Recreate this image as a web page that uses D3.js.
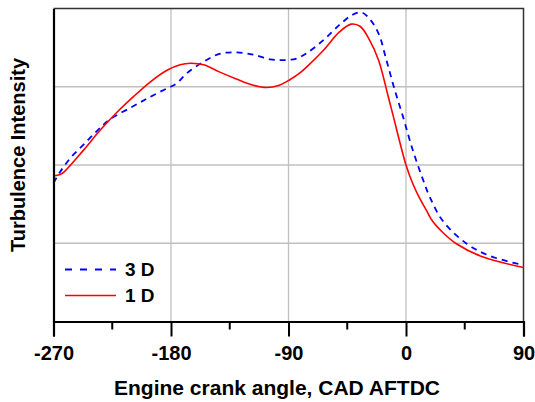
<!DOCTYPE html>
<html><head><meta charset="utf-8">
<script src="https://cdn.jsdelivr.net/npm/d3@7"></script>
<style>body{margin:0;background:#fff}svg{display:block}text{font-family:Arial,"Liberation Sans",sans-serif;font-weight:bold;fill:#000}</style>
</head><body>
<svg id="c" width="535" height="402"></svg>
<script>
const xTicks = [-270, -180, -90, 0, 90];
const xMinorTicks = [-225, -135, -45, 45];
const yGrid = [1, 2, 3];
const seriesNames = ["3 D", "1 D"];
const angle3D = [-270,-265,-257,-247,-237,-227,-209,-196,-183,-176,-168,-155,-143,-130,-117,-104,-94,-84,-76,-63,-51,-41,-34,-28,-21,-15,-9,-2,5,12,18,28,46,64,90];
const val3D   = [1.77,1.91,2.09,2.26,2.43,2.58,2.75,2.87,2.98,3.04,3.17,3.32,3.42,3.44,3.41,3.35,3.34,3.36,3.43,3.60,3.79,3.92,3.95,3.87,3.68,3.34,2.98,2.60,2.20,1.86,1.60,1.29,1.00,0.84,0.72];
const angle1D = [-270,-265,-262,-247,-234,-221,-209,-196,-183,-173,-165,-155,-143,-130,-117,-107,-97,-89,-81,-75,-63,-51,-42,-35,-28,-21,-14,-10,0,5,10,16,20,28,38,58,90];
const val1D   = [1.86,1.88,1.91,2.19,2.45,2.68,2.87,3.06,3.21,3.28,3.30,3.28,3.19,3.10,3.02,2.99,3.02,3.09,3.18,3.27,3.47,3.70,3.80,3.77,3.60,3.34,2.90,2.64,2.00,1.77,1.59,1.41,1.29,1.14,1.00,0.83,0.69];

const svg = d3.select("#c");
const L = 53.5, R = 523.5, T = 8.5, B = 321.5;
const x = d3.scaleLinear().domain([-270, 90]).range([L, R]);
const y = d3.scaleLinear().domain([0, 4]).range([B, T]);

// grid
svg.append("g").selectAll("line").data(xTicks.slice(1, -1)).join("line")
  .attr("x1", d => x(d)).attr("x2", d => x(d)).attr("y1", T).attr("y2", B)
  .attr("stroke", "#c0c0c0").attr("stroke-width", 1.3);
svg.append("g").selectAll("line").data(yGrid).join("line")
  .attr("x1", L).attr("x2", R).attr("y1", d => y(d)).attr("y2", d => y(d))
  .attr("stroke", "#c0c0c0").attr("stroke-width", 1.3);

// top/right frame
svg.append("path").attr("d", `M${L},${T}H${R}V${B}`).attr("fill", "none")
  .attr("stroke", "#333").attr("stroke-width", 1.5);

// curves
const line = d3.line().x(d => x(d[0])).y(d => y(d[1])).curve(d3.curveCatmullRom.alpha(0.5));
const d3D = angle3D.map((a, i) => [a, val3D[i]]);
const d1D = angle1D.map((a, i) => [a, val1D[i]]);
svg.append("path").datum(d3D).attr("d", line).attr("fill", "none")
  .attr("stroke", "#0000ff").attr("stroke-width", 1.8).attr("stroke-dasharray", "6,5");
svg.append("path").datum(d1D).attr("d", line).attr("fill", "none")
  .attr("stroke", "#ff0000").attr("stroke-width", 1.6);

// axes
const xAxis = d3.axisBottom(x).tickValues(xTicks).tickSize(15).tickPadding(9).tickFormat(d => String(d));
const gx = svg.append("g").attr("transform", `translate(0,${B})`).call(xAxis);
gx.select(".domain").attr("stroke", "#000").attr("stroke-width", 2.2);
gx.selectAll(".tick line").attr("stroke", "#000").attr("stroke-width", 2);
gx.selectAll(".tick text").style("font-size", "20px").style("font-family", "Arial, 'Liberation Sans', sans-serif").style("font-weight", "bold").attr("fill", "#000");
svg.append("g").selectAll("line").data(xMinorTicks).join("line")
  .attr("x1", d => x(d)).attr("x2", d => x(d)).attr("y1", B).attr("y2", B + 8)
  .attr("stroke", "#000").attr("stroke-width", 2);
const yAxis = d3.axisLeft(y).tickValues([]).tickSize(0);
const gy = svg.append("g").attr("transform", `translate(${L},0)`).call(yAxis);
gy.select(".domain").attr("stroke", "#000").attr("stroke-width", 2.2);

// labels
svg.append("text").attr("x", 277).attr("y", 395).attr("text-anchor", "middle")
  .style("font-size", "21px").text("Engine crank angle, CAD AFTDC");
svg.append("text").attr("transform", `translate(25,155) rotate(-90)`).attr("text-anchor", "middle")
  .style("font-size", "20px").text("Turbulence Intensity");

// legend
const leg = svg.append("g");
const legY = [269.5, 295.5];
leg.append("line").attr("x1", 65).attr("x2", 116).attr("y1", legY[0]).attr("y2", legY[0])
  .attr("stroke", "#0000ff").attr("stroke-width", 1.8).attr("stroke-dasharray", "7,8");
leg.append("line").attr("x1", 65).attr("x2", 116).attr("y1", legY[1]).attr("y2", legY[1])
  .attr("stroke", "#ff0000").attr("stroke-width", 1.6);
leg.selectAll("text").data(seriesNames).join("text")
  .attr("x", 125).attr("y", (d, i) => legY[i] + 6.5).style("font-size", "19px").text(d => d);
</script>
</body></html>
